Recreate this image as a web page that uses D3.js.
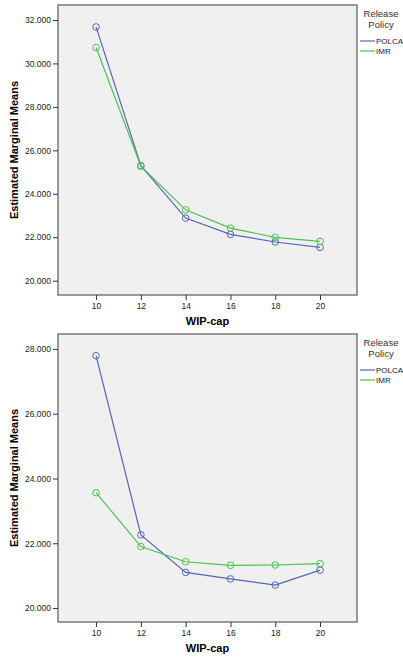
<!DOCTYPE html>
<html>
<head>
<meta charset="utf-8">
<script src="https://cdn.jsdelivr.net/npm/d3@7"></script>
<style>
  body { margin: 0; background: #fff; }
  svg { display: block; font-family: "Liberation Sans", Arial, sans-serif; }
</style>
</head>
<body>
<svg id="chart" width="403" height="660"></svg>
<script>
const wipCap = [10, 12, 14, 16, 18, 20];
const series = ["POLCA", "IMR"];
const colors = { POLCA: "#5466b8", IMR: "#4cc252" };

// top panel
const topPolca = [31.68, 25.29, 22.88, 22.13, 21.78, 21.53];
const topImr = [30.73, 25.27, 23.26, 22.42, 21.99, 21.81];
const topTicks = [20, 22, 24, 26, 28, 30, 32];

// bottom panel
const botPolca = [27.79, 22.26, 21.10, 20.90, 20.71, 21.17];
const botImr = [23.56, 21.90, 21.43, 21.32, 21.33, 21.37];
const botTicks = [20, 22, 24, 26, 28];

const svg = d3.select("#chart");

function drawPanel(top, bottom, yDomain, yTicks, data) {
  const left = 58, right = 357;
  const g = svg.append("g");

  const x = d3.scaleLinear().domain([8.3, 21.65]).range([left, right]);
  const y = d3.scaleLinear().domain(yDomain).range([bottom, top]);

  g.append("rect")
    .attr("x", left).attr("y", top)
    .attr("width", right - left).attr("height", bottom - top)
    .attr("fill", "#f0f0f0")
    .attr("stroke", "#7a7a7a")
    .attr("stroke-width", 1.5);

  const yAxis = g.append("g")
    .attr("transform", `translate(${left},0)`)
    .call(d3.axisLeft(y).tickValues(yTicks).tickSize(5).tickPadding(2).tickFormat(d3.format(".3f")));
  yAxis.select(".domain").remove();
  yAxis.selectAll("line").attr("stroke", "#333");
  yAxis.selectAll("text").attr("font-size", 8.5).attr("fill", "#222").attr("font-family", "Liberation Sans, Arial, sans-serif");

  const xAxis = g.append("g")
    .attr("transform", `translate(0,${bottom})`)
    .call(d3.axisBottom(x).tickValues(wipCap).tickSize(5).tickPadding(3));
  xAxis.select(".domain").remove();
  xAxis.selectAll("line").attr("stroke", "#333");
  xAxis.selectAll("text").attr("font-size", 8.5).attr("fill", "#222").attr("font-family", "Liberation Sans, Arial, sans-serif");

  g.append("text")
    .attr("x", (left + right) / 2)
    .attr("y", bottom + 30)
    .attr("text-anchor", "middle")
    .attr("font-size", 11)
    .attr("font-weight", "bold")
    .text("WIP-cap");

  g.append("text")
    .attr("transform", `translate(18,${(top + bottom) / 2}) rotate(-90)`)
    .attr("text-anchor", "middle")
    .attr("font-size", 11)
    .attr("font-weight", "bold")
    .text("Estimated Marginal Means");

  const line = d3.line()
    .x((d, i) => x(wipCap[i]))
    .y(d => y(d));

  series.forEach(s => {
    g.append("path")
      .datum(data[s])
      .attr("fill", "none")
      .attr("stroke", colors[s])
      .attr("stroke-width", 1.2)
      .attr("d", line);
    g.selectAll(null)
      .data(data[s])
      .enter()
      .append("circle")
      .attr("cx", (d, i) => x(wipCap[i]))
      .attr("cy", d => y(d))
      .attr("r", 3.3)
      .attr("fill", "none")
      .attr("stroke", colors[s])
      .attr("stroke-width", 1);
  });

  // legend
  const lg = g.append("g");
  lg.append("text").attr("x", 381).attr("y", top + 12).attr("text-anchor", "middle")
    .attr("font-size", 9.5).attr("fill", "#333").text("Release");
  lg.append("text").attr("x", 381).attr("y", top + 23).attr("text-anchor", "middle")
    .attr("font-size", 9.5).attr("fill", "#333").text("Policy");
  series.forEach((s, i) => {
    const ly = top + 36 + i * 10;
    lg.append("line").attr("x1", 360).attr("x2", 375).attr("y1", ly).attr("y2", ly)
      .attr("stroke", colors[s]).attr("stroke-width", 1.2);
    lg.append("text").attr("x", 376).attr("y", ly + 3).attr("font-size", 8)
      .attr("fill", "#222").text(s);
  });
}

drawPanel(5, 295, [19.34, 32.69], topTicks, { POLCA: topPolca, IMR: topImr });
drawPanel(334, 622, [19.57, 28.46], botTicks, { POLCA: botPolca, IMR: botImr });
</script>
</body>
</html>
